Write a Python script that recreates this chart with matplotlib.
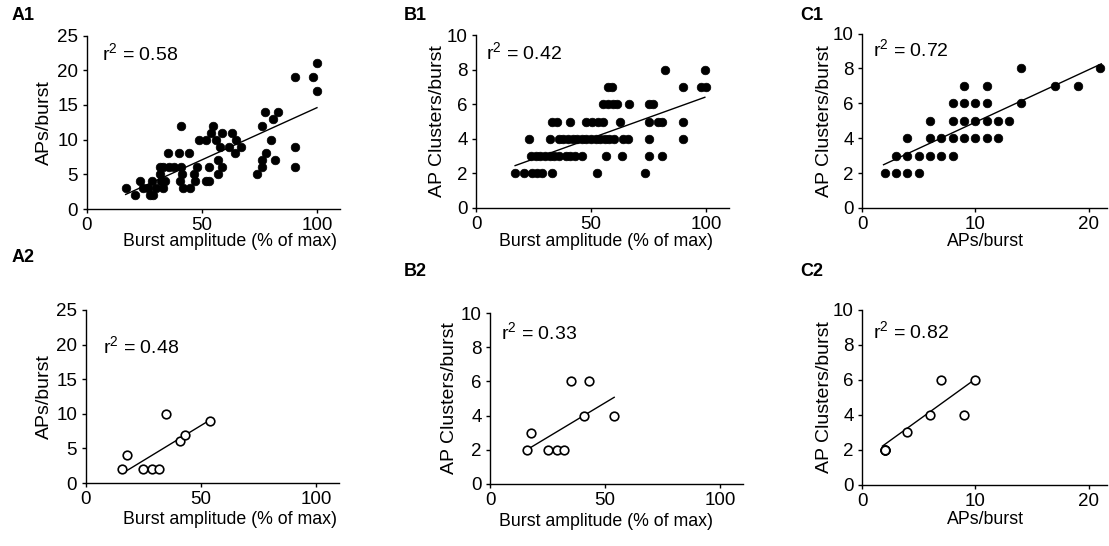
import matplotlib
matplotlib.use("Agg")
import matplotlib.pyplot as plt

plt.rcParams.update({
    "font.family": ["Liberation Sans", "DejaVu Sans"],
    "mathtext.default": "regular",
    "font.size": 12,
    "axes.linewidth": 1.0,
    "axes.spines.top": False,
    "axes.spines.right": False,
})

W, H = 1109, 546

# ---- data ----
# A1: burst amplitude (% of max) vs APs/burst, all bursts
a1_amp = [17, 21, 23, 24.5, 26.5, 27.5, 28.5, 29, 30, 32, 33, 32, 32.5, 34, 33, 35.5,
          36, 38, 40, 41, 40.5, 41.5, 41, 42, 45, 44.5, 46.5, 48, 49, 52, 52, 53, 53,
          54, 55, 56, 57, 57, 58, 59, 59, 62, 63, 64.5, 65, 67, 74, 76, 76, 76, 77.5,
          78, 80, 81, 82, 83, 90.5, 90.5, 90.5, 98.5, 100, 100, 47]
a1_aps = [3, 2, 4, 3, 3, 2, 4, 2, 3, 6, 6, 5, 4, 4, 3, 8,
          6, 6, 8, 12, 4, 5, 6, 3, 3, 8, 5, 6, 10, 10, 4, 4, 6,
          11, 12, 10, 7, 5, 9, 11, 6, 9, 11, 8, 10, 9, 5, 12, 7, 6, 14,
          8, 10, 13, 7, 14, 19, 9, 6, 19, 21, 17, 4]
a1_fit = ([17, 100], [2.1, 14.6])

# B1: burst amplitude vs AP clusters/burst
b1_amp = [17, 21, 24.5, 26.5, 28.5, 33, 52.5, 73.5,
          24, 26, 28, 30, 32, 34, 36, 39, 41, 43, 46, 56.5, 63.5, 75, 81,
          23, 32, 36, 38, 40, 42, 44, 46, 48, 50, 52, 54, 56, 58, 60, 64, 66, 75, 90,
          33, 35, 41, 48, 50.5, 53, 55, 62.5, 75, 79, 81, 90,
          55, 57.5, 59.5, 61.5, 66.5, 75, 77,
          57.5, 59, 90, 98, 100,
          82, 99.5]
b1_clu = [2, 2, 2, 2, 2, 2, 2, 2,
          3, 3, 3, 3, 3, 3, 3, 3, 3, 3, 3, 3, 3, 3, 3,
          4, 4, 4, 4, 4, 4, 4, 4, 4, 4, 4, 4, 4, 4, 4, 4, 4, 4, 4,
          5, 5, 5, 5, 5, 5, 5, 5, 5, 5, 5, 5,
          6, 6, 6, 6, 6, 6, 6,
          7, 7, 7, 7, 7,
          8, 8]
b1_fit = ([17, 99.5], [2.45, 6.4])

# C1: APs/burst vs AP clusters/burst
c1_aps = [2, 3, 4, 5,
          3, 4, 5, 6, 7, 8,
          4, 6, 7, 8, 9, 10, 11, 12,
          6, 8, 9, 10, 11, 12, 13,
          8, 9, 10, 11, 14,
          9, 11, 17, 19,
          14, 21]
c1_clu = [2, 2, 2, 2,
          3, 3, 3, 3, 3, 3,
          4, 4, 4, 4, 4, 4, 4, 4,
          5, 5, 5, 5, 5, 5, 5,
          6, 6, 6, 6, 6,
          7, 7, 7, 7,
          8, 8]
c1_fit = ([1.9, 21.1], [2.48, 8.26])

# row 2: a second data set (open symbols), same bursts in A2, B2, C2
a2_amp = [16, 18, 25, 29, 32, 35, 41, 43, 54]
a2_aps = [2, 4, 2, 2, 2, 10, 6, 7, 9]
a2_clu = [2, 3, 2, 2, 2, 6, 4, 6, 4]
a2_fit = ([17, 54], [1.6, 9.1])
b2_fit = ([16, 54], [2.0, 5.07])
c2_fit = ([1.8, 9.9], [2.2, 6.0])

r2_text = ["0.58", "0.42", "0.72", "0.48", "0.33", "0.82"]
panel_names = ["A1", "B1", "C1", "A2", "B2", "C2"]
amp_label = "Burst amplitude (% of max)"
aps_label = "APs/burst"
clu_label = "AP Clusters/burst"


def axes_px(fig, left, top, right, bottom):
    return fig.add_axes([left / W, 1 - bottom / H, (right - left) / W, (bottom - top) / H])


def style(ax, xlim, ylim, xticks, yticks, xlabel, ylabel, xlab_px, ylab_px, lab_y):
    ax.set_xlim(*xlim)
    ax.set_ylim(*ylim)
    ax.set_xticks(xticks)
    ax.set_yticks(yticks)
    ax.tick_params(direction="out", length=3, width=1, labelsize=13.5, pad=3)
    ax.set_xlabel(xlabel, fontsize=12.8)
    ax.set_ylabel(ylabel, fontsize=14)
    # place labels at pixel positions
    pos = ax.get_position()
    ax.xaxis.set_label_coords(xlab_px / W, 1 - lab_y / H, transform=fig.transFigure)
    ax.yaxis.set_label_coords((ylab_px / W - pos.x0) / pos.width, 0.5)
    ax.xaxis.label.set_va("center")
    ax.yaxis.label.set_va("center")


def scatter(ax, x, y, fit, filled=True):
    if filled:
        ax.plot(x, y, "o", ms=6.2, mfc="black", mec="black", mew=0.5, ls="none", clip_on=False, zorder=3)
    else:
        ax.plot(x, y, "o", ms=6.2, mfc="white", mec="black", mew=1.2, ls="none", clip_on=False, zorder=3)
    ax.plot(fit[0], fit[1], color="black", lw=1.0, zorder=2)


fig = plt.figure(figsize=(W / 100, H / 100), dpi=100)

ax_a1 = axes_px(fig, 86.5, 35.5, 340, 209)
ax_b1 = axes_px(fig, 476, 35, 729, 208)
ax_c1 = axes_px(fig, 862, 33.5, 1107, 208)
ax_a2 = axes_px(fig, 85.5, 310, 339, 483)
ax_b2 = axes_px(fig, 490, 313, 743, 484)
ax_c2 = axes_px(fig, 862, 310, 1107, 484.5)

scatter(ax_a1, a1_amp, a1_aps, a1_fit)
scatter(ax_b1, b1_amp, b1_clu, b1_fit)
scatter(ax_c1, c1_aps, c1_clu, c1_fit)
scatter(ax_a2, a2_amp, a2_aps, a2_fit, filled=False)
scatter(ax_b2, a2_amp, a2_clu, b2_fit, filled=False)
scatter(ax_c2, a2_aps, a2_clu, c2_fit, filled=False)

style(ax_a1, (0, 110), (0, 25), [0, 50, 100], [0, 5, 10, 15, 20, 25], amp_label, aps_label, 230, 44, 242)
style(ax_b1, (0, 110), (0, 10), [0, 50, 100], [0, 2, 4, 6, 8, 10], amp_label, clu_label, 606, 437, 242)
style(ax_c1, (0, 21.6), (0, 10), [0, 10, 20], [0, 2, 4, 6, 8, 10], aps_label, clu_label, 985, 825, 242)
style(ax_a2, (0, 110), (0, 25), [0, 50, 100], [0, 5, 10, 15, 20, 25], amp_label, aps_label, 230, 44, 520)
style(ax_b2, (0, 110), (0, 10), [0, 50, 100], [0, 2, 4, 6, 8, 10], amp_label, clu_label, 606, 449, 522)
style(ax_c2, (0, 21.6), (0, 10), [0, 10, 20], [0, 2, 4, 6, 8, 10], aps_label, clu_label, 985, 825, 520)

all_axes = [ax_a1, ax_b1, ax_c1, ax_a2, ax_b2, ax_c2]
r2_pos = [(0.06, 0.9), (0.04, 0.9), (0.045, 0.91), (0.07, 0.79), (0.045, 0.89), (0.045, 0.88)]
for ax, txt, pos in zip(all_axes, r2_text, r2_pos):
    ax.text(pos[0], pos[1], "r$^2$ = " + txt, transform=ax.transAxes, fontsize=14,
            ha="left", va="center")

label_px = [(12, 15), (404, 15), (800, 15), (12, 258), (404, 272), (800, 272)]
for name, (x, y) in zip(panel_names, label_px):
    fig.text(x / W, 1 - y / H, name, fontsize=13, fontweight="bold", ha="left", va="center")

fig.savefig("out.png", dpi=100)
